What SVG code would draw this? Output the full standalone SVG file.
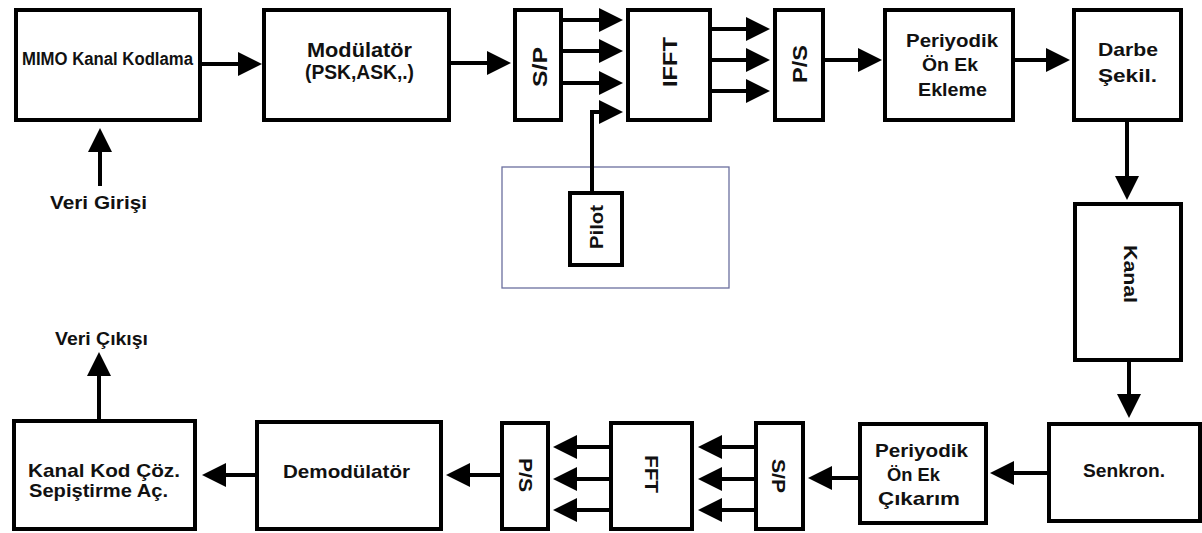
<svg xmlns="http://www.w3.org/2000/svg" width="1202" height="533" viewBox="0 0 1202 533">
<style>
.box{fill:#fff;stroke:#000;stroke-width:4}
.grp{fill:none;stroke:#6b6f9e;stroke-width:1.3}
.t{font-family:"Liberation Sans",Arial,sans-serif;font-weight:bold;fill:#111;text-anchor:middle;font-size:18px}
.c{fill:none;stroke:#000;stroke-width:4}
</style>
<defs>
<marker id="ah" markerUnits="userSpaceOnUse" markerWidth="26" markerHeight="26" refX="0" refY="12" orient="auto" overflow="visible">
<path d="M0,0 L24,12 L0,24 Z" fill="#000"/>
</marker>
</defs>
<rect width="1202" height="533" fill="#fff"/>
<rect id="pilot-group" class="grp" x="502" y="167" width="227" height="121"/>
<g id="connectors">
<path class="c" marker-end="url(#ah)" d="M202,64 H238"/>
<path class="c" marker-end="url(#ah)" d="M100,186 V152"/>
<path class="c" marker-end="url(#ah)" d="M451,63 H487"/>
<path class="c" marker-end="url(#ah)" d="M563,20 H599"/>
<path class="c" marker-end="url(#ah)" d="M563,51 H599"/>
<path class="c" marker-end="url(#ah)" d="M563,83 H599"/>
<path class="c" marker-end="url(#ah)" d="M592,192 V112 H599"/>
<path class="c" marker-end="url(#ah)" d="M712,29 H746"/>
<path class="c" marker-end="url(#ah)" d="M712,60 H746"/>
<path class="c" marker-end="url(#ah)" d="M712,91 H746"/>
<path class="c" marker-end="url(#ah)" d="M825,60 H858"/>
<path class="c" marker-end="url(#ah)" d="M1015,60 H1046"/>
<path class="c" marker-end="url(#ah)" d="M1127,122 V176"/>
<path class="c" marker-end="url(#ah)" d="M1129,362 V394"/>
<path class="c" marker-end="url(#ah)" d="M1047,473 H1014"/>
<path class="c" marker-end="url(#ah)" d="M858,478 H832"/>
<path class="c" marker-end="url(#ah)" d="M754,447 H722"/>
<path class="c" marker-end="url(#ah)" d="M754,479 H722"/>
<path class="c" marker-end="url(#ah)" d="M754,510 H722"/>
<path class="c" marker-end="url(#ah)" d="M609,447 H577"/>
<path class="c" marker-end="url(#ah)" d="M609,479 H577"/>
<path class="c" marker-end="url(#ah)" d="M609,510 H577"/>
<path class="c" marker-end="url(#ah)" d="M500,475 H470"/>
<path class="c" marker-end="url(#ah)" d="M255,475 H226"/>
<path class="c" marker-end="url(#ah)" d="M99,419 V376"/>
</g>
<g id="mimo"><rect class="box" x="16" y="10" width="184" height="110"/>
<text class="t" x="107.5" y="65" font-size="17" textLength="171" lengthAdjust="spacingAndGlyphs">MIMO Kanal Kodlama</text></g>
<g id="modulator"><rect class="box" x="264" y="10" width="185" height="110"/>
<text class="t" x="359.5" y="57" style="font-size:20px" textLength="105" lengthAdjust="spacingAndGlyphs">Modülatör</text>
<text class="t" x="359.5" y="79" style="font-size:20px" textLength="109" lengthAdjust="spacingAndGlyphs">(PSK,ASK,.)</text></g>
<g id="veri-girisi"><text class="t" x="98.5" y="209" textLength="97" lengthAdjust="spacingAndGlyphs">Veri Girişi</text></g>
<g id="sp-top"><rect class="box" x="515" y="10" width="46" height="110"/>
<text class="t" transform="translate(540,67) rotate(-90)" x="0" y="7" style="font-size:20px" textLength="40" lengthAdjust="spacingAndGlyphs">S/P</text></g>
<g id="ifft"><rect class="box" x="628" y="10" width="82" height="110"/>
<text class="t" transform="translate(670,62) rotate(-90)" x="0" y="7" style="font-size:20px" textLength="50" lengthAdjust="spacingAndGlyphs">IFFT</text></g>
<g id="ps-top"><rect class="box" x="775" y="10" width="48" height="110"/>
<text class="t" transform="translate(800,64) rotate(-90)" x="0" y="7" style="font-size:20px" textLength="38" lengthAdjust="spacingAndGlyphs">P/S</text></g>
<g id="cp-add"><rect class="box" x="885" y="10" width="128" height="110"/>
<text class="t" x="952" y="47" style="font-size:19px" textLength="92" lengthAdjust="spacingAndGlyphs">Periyodik</text>
<text class="t" x="950" y="71" style="font-size:19px" textLength="56" lengthAdjust="spacingAndGlyphs">Ön Ek</text>
<text class="t" x="952.5" y="96" style="font-size:19px" textLength="69" lengthAdjust="spacingAndGlyphs">Ekleme</text></g>
<g id="darbe"><rect class="box" x="1074" y="10" width="107" height="110"/>
<text class="t" x="1128" y="56" style="font-size:19px" textLength="60" lengthAdjust="spacingAndGlyphs">Darbe</text>
<text class="t" x="1127.5" y="82" style="font-size:19px" textLength="59" lengthAdjust="spacingAndGlyphs">Şekil.</text></g>
<g id="pilot"><rect class="box" x="570" y="193" width="52" height="72"/>
<text class="t" transform="translate(596,227) rotate(-90)" x="0" y="7" style="font-size:19px" textLength="44" lengthAdjust="spacingAndGlyphs">Pilot</text></g>
<g id="kanal"><rect class="box" x="1075" y="204" width="106" height="156"/>
<text class="t" transform="translate(1131,274) rotate(90)" x="0" y="7" style="font-size:19px" textLength="58" lengthAdjust="spacingAndGlyphs">Kanal</text></g>
<g id="senkron"><rect class="box" x="1049" y="424" width="151" height="97"/>
<text class="t" x="1124" y="477" style="font-size:19px" textLength="82" lengthAdjust="spacingAndGlyphs">Senkron.</text></g>
<g id="cp-remove"><rect class="box" x="860" y="424" width="126" height="99"/>
<text class="t" x="921.5" y="457" style="font-size:19px" textLength="93" lengthAdjust="spacingAndGlyphs">Periyodik</text>
<text class="t" x="913.5" y="481" style="font-size:19px" textLength="53" lengthAdjust="spacingAndGlyphs">Ön Ek</text>
<text class="t" x="919" y="505" style="font-size:19px" textLength="82" lengthAdjust="spacingAndGlyphs">Çıkarım</text></g>
<g id="sp-bottom"><rect class="box" x="756" y="423" width="47" height="106"/>
<text class="t" transform="translate(779,476) rotate(90)" x="0" y="7" style="font-size:19px" textLength="34" lengthAdjust="spacingAndGlyphs">S/P</text></g>
<g id="fft"><rect class="box" x="611" y="423" width="81" height="106"/>
<text class="t" transform="translate(652,474) rotate(90)" x="0" y="7" style="font-size:19px" textLength="38" lengthAdjust="spacingAndGlyphs">FFT</text></g>
<g id="ps-bottom"><rect class="box" x="502" y="423" width="46" height="106"/>
<text class="t" transform="translate(526,475) rotate(90)" x="0" y="7" style="font-size:19px" textLength="34" lengthAdjust="spacingAndGlyphs">P/S</text></g>
<g id="demod"><rect class="box" x="257" y="422" width="184" height="107"/>
<text class="t" x="346.5" y="478" style="font-size:19px" textLength="127" lengthAdjust="spacingAndGlyphs">Demodülatör</text></g>
<g id="kanal-kod"><rect class="box" x="14" y="421" width="181" height="108"/>
<text class="t" x="104" y="477" style="font-size:19px" textLength="152" lengthAdjust="spacingAndGlyphs">Kanal Kod Çöz.</text>
<text class="t" x="98.5" y="497" style="font-size:19px" textLength="139" lengthAdjust="spacingAndGlyphs">Sepiştirme Aç.</text></g>
<g id="veri-cikisi"><text class="t" x="101.5" y="345" textLength="93" lengthAdjust="spacingAndGlyphs">Veri Çıkışı</text></g>
</svg>
